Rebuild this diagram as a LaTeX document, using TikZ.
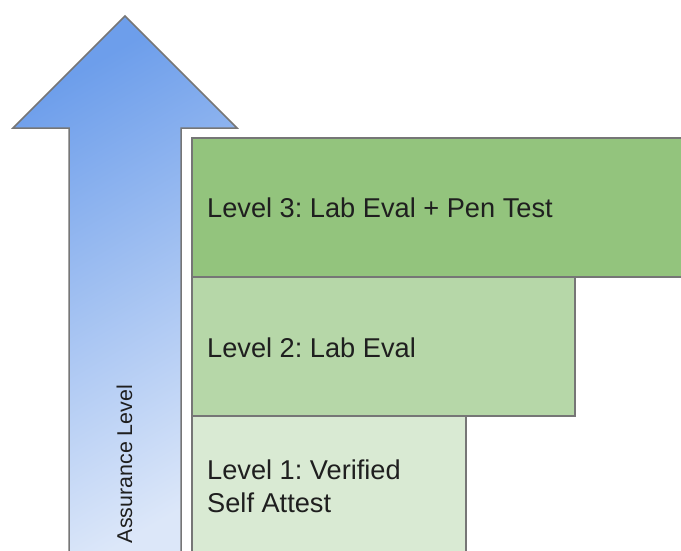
\documentclass[tikz,border=0pt]{standalone}
\usepackage{fontspec}
\setmainfont{Liberation Sans}
\frenchspacing
\definecolor{edge}{HTML}{767676}
\definecolor{gthree}{HTML}{93C47D}
\definecolor{gtwo}{HTML}{B6D7A8}
\definecolor{gone}{HTML}{D9EAD3}
\definecolor{bluetop}{HTML}{6D9EEB}
\definecolor{bluebot}{HTML}{DCE7F9}
\definecolor{ink}{HTML}{1F1F1F}
\tikzset{
  levelbox/.style={draw=edge, line width=1.5pt, rectangle, inner sep=0pt, anchor=north west},
  lbl/.style={text=ink, inner sep=0pt, anchor=base west, font=\fontsize{27.2}{33}\selectfont, align=left},
  axislbl/.style={text=ink, inner sep=0pt, anchor=base, rotate=90, font=\fontsize{21.4}{25}\selectfont}
}
\begin{document}
\begin{tikzpicture}[x=1pt, y=-1pt]
\useasboundingbox (0,0) rectangle (681,550);
\fill[white] (0,0) rectangle (681,550);
\begin{scope}
\clip (0,0) rectangle (681,550);
% arrow
\shade[top color=bluetop, bottom color=bluebot, shading angle=30, draw=edge, line width=1.5pt, line join=miter]
  (125,16) -- (237,128) -- (181,128) -- (181,570) -- (69,570) -- (69,128) -- (13,128) -- cycle;
% boxes
\node[levelbox, fill=gthree, minimum width=520pt, minimum height=139pt] (b3) at (191,137) {};
\node[levelbox, fill=gtwo, minimum width=383pt, minimum height=139pt] (b2) at (191,276) {};
\node[levelbox, fill=gone, minimum width=274pt, minimum height=160pt] (b1) at (191,415) {};
\end{scope}
\node[lbl] (t3) at (207,217) {Level 3: Lab Eval + Pen Test};
\node[lbl] (t2) at (207,357) {Level 2: Lab Eval};
\node[lbl] (t1) at (207,479) {Level 1: Verified};
\node[lbl] (t1b) at (207,512) {Self Attest};
\node[axislbl] (al) at (132,464) {Assurance Level};
\end{tikzpicture}
\end{document}
